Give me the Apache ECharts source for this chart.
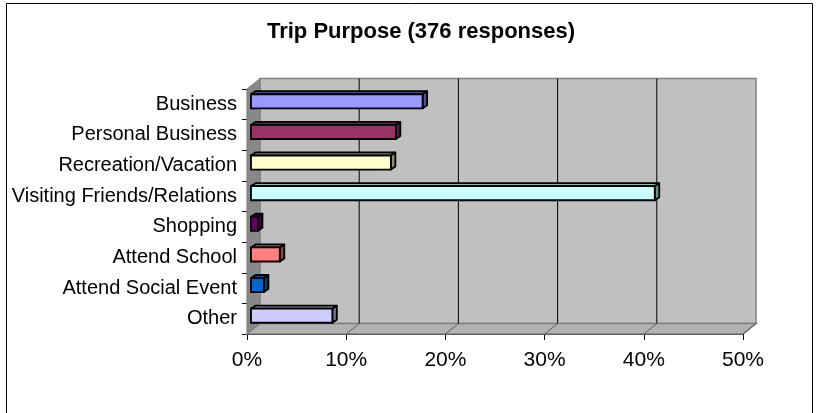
<!DOCTYPE html>
<html>
<head>
<meta charset="utf-8">
<script src="https://cdn.jsdelivr.net/npm/echarts@6/dist/echarts.min.js"></script>
<style>
  html, body { margin: 0; padding: 0; background: #ffffff; }
  #chart { width: 828px; height: 413px; }
</style>
</head>
<body>
<div id="chart"></div>
<script>
// ---- data ----
const titleText = 'Trip Purpose (376 responses)';
const categories = ['Business', 'Personal Business', 'Recreation/Vacation', 'Visiting Friends/Relations', 'Shopping', 'Attend School', 'Attend Social Event', 'Other'];
const values = [17.3, 14.6, 14.1, 40.7, 0.7, 2.9, 1.3, 8.2];
const xTicks = [0, 10, 20, 30, 40, 50];
const barColors = ['#9999FF', '#993366', '#FFFFCC', '#CCFFFF', '#660066', '#FF8080', '#0066CC', '#CCCCFF'];

const FONT = '"Liberation Sans", Arial, sans-serif';
const DX = 13, DY = -10.5; // wall depth

function shade(hex, f) {
  const n = parseInt(hex.slice(1), 16);
  const r = Math.round(((n >> 16) & 255) * f), g = Math.round(((n >> 8) & 255) * f), b = Math.round((n & 255) * f);
  return 'rgb(' + r + ',' + g + ',' + b + ')';
}

function renderWalls(params, api) {
  const cs = params.coordSys;
  const x0 = cs.x, y0 = cs.y, x1 = cs.x + cs.width, y1 = cs.y + cs.height;
  const children = [];
  children.push({ type: 'polygon', shape: { points: [[x0 + DX, y0 + DY], [x1 + DX, y0 + DY], [x1 + DX, y1 + DY], [x0 + DX, y1 + DY]] },
    style: { fill: '#C0C0C0', stroke: '#808080', lineWidth: 1.5 } });
  children.push({ type: 'polygon', shape: { points: [[x0, y0], [x0 + DX, y0 + DY], [x0 + DX, y1 + DY], [x0, y1]] },
    style: { fill: '#888888', stroke: '#808080', lineWidth: 1 } });
  children.push({ type: 'polygon', shape: { points: [[x0, y1], [x1, y1], [x1 + DX, y1 + DY], [x0 + DX, y1 + DY]] },
    style: { fill: '#B2B2B2', stroke: '#808080', lineWidth: 1.5 } });
  xTicks.forEach(function (t) {
    const px = api.coord([t, 0])[0];
    if (t > xTicks[0] && t < xTicks[xTicks.length - 1]) {
      children.push({ type: 'line', shape: { x1: px + DX, y1: y0 + DY, x2: px + DX, y2: y1 + DY }, style: { stroke: '#000', lineWidth: 1 } });
    }
    if (t > xTicks[0]) {
      children.push({ type: 'line', shape: { x1: px, y1: y1, x2: px + DX, y2: y1 + DY }, style: { stroke: '#606060', lineWidth: 1 } });
    }
  });
  return { type: 'group', children: children };
}

function renderBar(params, api) {
  const v = api.value(0), c = api.value(1);
  const p0 = api.coord([0, c]), p1 = api.coord([v, c]);
  const band = api.size([0, 1])[1];
  const h = band * 0.46;
  const ox = 4, oy = -3, dx = 4.5, dy = -3;
  const xL = p0[0] + ox, xR = p1[0] + ox;
  const yT = p0[1] - h / 2 + oy, yB = p0[1] + h / 2 + oy;
  const col = barColors[params.dataIndex];
  const lw = 1.8;
  return { type: 'group', children: [
    { type: 'polygon', shape: { points: [[xL, yT], [xR, yT], [xR + dx, yT + dy], [xL + dx, yT + dy]] }, style: { fill: shade(col, 0.72), stroke: '#000', lineWidth: lw, lineJoin: 'round' } },
    { type: 'polygon', shape: { points: [[xR, yT], [xR + dx, yT + dy], [xR + dx, yB + dy], [xR, yB]] }, style: { fill: shade(col, 0.55), stroke: '#000', lineWidth: lw, lineJoin: 'round' } },
    { type: 'rect', shape: { x: xL, y: yT, width: xR - xL, height: yB - yT }, style: { fill: col, stroke: '#000', lineWidth: lw } }
  ] };
}

const chart = echarts.init(document.getElementById('chart'), null, { renderer: 'canvas' });
chart.setOption({
  animation: false,
  backgroundColor: '#ffffff',
  graphic: [
    { type: 'rect', shape: { x: 6.5, y: 3.5, width: 806, height: 430 }, style: { fill: 'none', stroke: '#000', lineWidth: 1 }, z: -10 },
    { type: 'text', x: 421, y: 32, style: { text: titleText, font: 'bold 22px ' + FONT, fill: '#000', align: 'center', verticalAlign: 'middle' } }
  ],
  grid: { left: 247, right: 85, top: 89, bottom: 79 },
  xAxis: {
    type: 'value', min: 0, max: 50, interval: 10,
    axisLine: { show: true, lineStyle: { color: '#000', width: 1.2 } },
    axisTick: { show: true, length: 6, lineStyle: { color: '#000' } },
    splitLine: { show: false },
    axisLabel: { formatter: '{value}%', fontSize: 21, fontFamily: FONT, color: '#000', margin: 16 }
  },
  yAxis: {
    type: 'category', data: categories, inverse: true,
    axisLine: { show: true, lineStyle: { color: '#000', width: 1.2 } },
    axisTick: { show: true, length: 5, lineStyle: { color: '#000' } },
    axisLabel: { fontSize: 20, fontFamily: FONT, color: '#000', margin: 10 },
    splitLine: { show: false }
  },
  series: [
    { type: 'custom', renderItem: renderWalls, data: [[0, 0]], encode: { x: 0, y: 1 }, z: 1, silent: true },
    { type: 'custom', renderItem: renderBar, data: values.map(function (v, i) { return [v, i]; }), encode: { x: 0, y: 1 }, z: 3 }
  ]
});
</script>
</body>
</html>
